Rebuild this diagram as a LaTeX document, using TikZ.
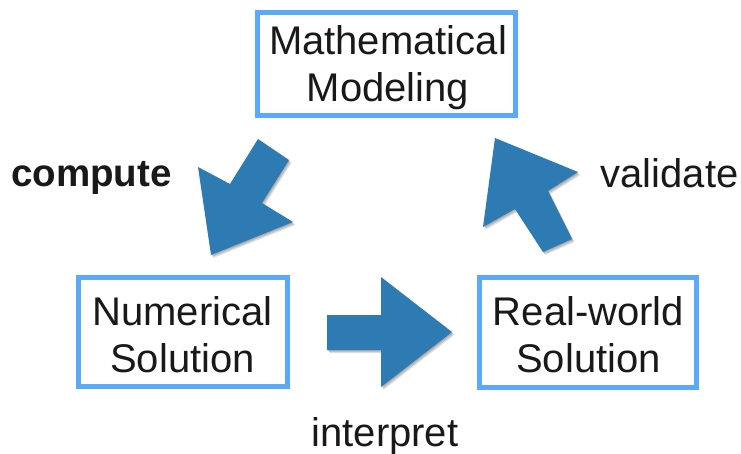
\documentclass[tikz,border=0pt]{standalone}
\usepackage{fontspec}
\setmainfont{Liberation Sans}
\definecolor{boxblue}{RGB}{90,170,248}
\definecolor{arrowblue}{RGB}{46,122,178}
\begin{document}
\begin{tikzpicture}[x=1pt,y=-1pt,
  box/.style={draw=boxblue,line width=5pt,inner sep=0pt},
  lbl/.style={font=\fontsize{40}{47}\selectfont,anchor=base,inner sep=0pt,text=black!90},
  blockarrow/.style={fill=arrowblue},
  arrowshade/.style={fill=black,opacity=0.12}]
\useasboundingbox (0,0) rectangle (741,454);
% boxes
\node[box,minimum width=258pt,minimum height=103pt] (mm) at (386.5,64) {};
\node[box,minimum width=209pt,minimum height=109pt] (ns) at (183,332) {};
\node[box,minimum width=217pt,minimum height=110pt] (rs) at (588,332.5) {};
% box texts
\node[lbl] (mm1) at (388,55) {Mathematical};
\node[lbl] (mm2) at (388,102) {Modeling};
\node[lbl] (ns1) at (182.5,325) {Numerical};
\node[lbl] (ns2) at (182.5,372) {Solution};
\node[lbl] (rs1) at (588.5,325) {Real-world};
\node[lbl] (rs2) at (588.5,372) {Solution};
% arrow labels
\node[lbl,font=\fontsize{38.5}{46}\selectfont\bfseries] (compute) at (91.5,187) {compute};
\node[lbl] (validate) at (669.5,188) {validate};
\node[lbl] (interpret) at (385,446) {interpret};
% block arrows: shadows
\foreach \d in {1,2,3} {
  \begin{scope}[shift={(0.8*\d,1*\d)}]
    \fill[arrowshade] (258,139) -- (289,160) -- (262,203) -- (293,222) -- (211,255) -- (198,167) -- (230,184) -- cycle;
    \fill[arrowshade] (495,138) -- (578,172) -- (548,191) -- (572,239) -- (543,252) -- (515,209) -- (483,227) -- cycle;
    \fill[arrowshade] (327,315) -- (381,315) -- (381,277) -- (452,332) -- (381,387) -- (381,350) -- (327,350) -- cycle;
  \end{scope}
}
% block arrows
\fill[blockarrow] (258,139) -- (289,160) -- (262,203) -- (293,222) -- (211,255) -- (198,167) -- (230,184) -- cycle;
\fill[blockarrow] (495,138) -- (578,172) -- (548,191) -- (572,239) -- (543,252) -- (515,209) -- (483,227) -- cycle;
\fill[blockarrow] (327,315) -- (381,315) -- (381,277) -- (452,332) -- (381,387) -- (381,350) -- (327,350) -- cycle;
\end{tikzpicture}
\end{document}
